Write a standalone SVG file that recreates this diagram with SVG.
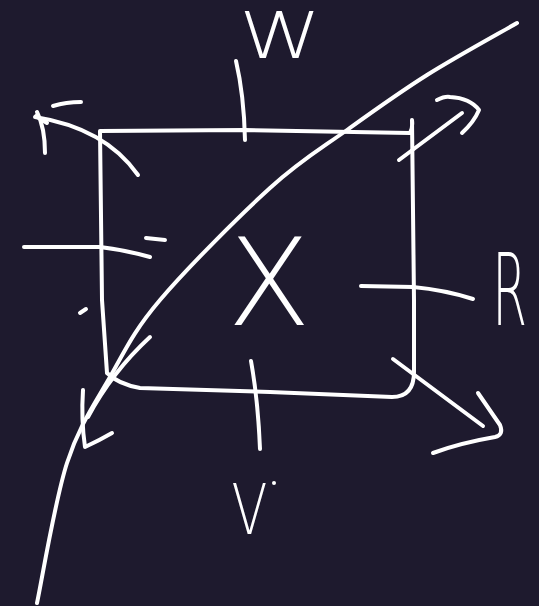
<svg xmlns="http://www.w3.org/2000/svg" width="539" height="606" viewBox="0 0 539 606">
  <style>
    .s { fill: none; stroke: #ffffff; stroke-width: 4; stroke-linecap: round; stroke-linejoin: round; }
    .t { fill: #ffffff; font-family: "DejaVu Sans", "Liberation Sans", sans-serif; font-weight: 200; text-anchor: middle; }
  </style>
  <rect x="0" y="0" width="539" height="606" fill="#1e1a2e"/>

  <g id="box">
    <path class="s" d="M100,131 L245,130 L410,133 Q413,128 412,120 L414,300 L414,372 Q414,397 392,397 L270,392 L140,388 Q118,384 107,373 L102,300 Z"/>
  </g>

  <g id="label-x">
    <text class="t" x="269" y="325" font-size="122">X</text>
  </g>
  <g id="label-w">
    <text class="t" transform="translate(280,58) scale(1.3,1)" x="0" y="0" font-size="64">W</text>
  </g>
  <g id="label-r">
    <text class="t" transform="translate(509.5,325) scale(0.5,1)" x="0" y="0" font-size="100">R</text>
  </g>
  <g id="label-v">
    <text class="t" transform="translate(249.5,534) scale(0.75,1)" x="0" y="0" font-size="70">V</text>
    <circle cx="274" cy="483" r="2" fill="#ffffff"/>
  </g>

  <g id="connectors">
    <!-- ticks -->
    <path class="s" d="M236,61 Q244,95 245,140"/>
    <path class="s" d="M361,286 L413,287 Q445,290 473,299"/>
    <path class="s" d="M251,361 Q258,400 260,449"/>
    <path class="s" d="M24,247 L100,247 Q125,250 150,257"/>
    <!-- stray marks -->
    <path class="s" d="M53,106 Q66,102 81,102"/>
    <path class="s" d="M146,238 L165,240"/>
    <path class="s" d="M80,313 L86,309"/>
    <!-- top-left arrow -->
    <path class="s" d="M138,175 Q105,128 35,117"/>
    <path class="s" d="M37,112 Q45,128 45,153"/>
    <path class="s" d="M36,116 L47,123"/>
    <!-- top-right arrow -->
    <path class="s" d="M399,160 L462,113"/>
    <path class="s" d="M437,100 Q445,96 450,97 Q470,98 479,110 Q474,122 462,133"/>
    <!-- bottom-right arrow -->
    <path class="s" d="M393,359 L483,426"/>
    <path class="s" d="M478,393 L500,425 Q504,435 495,437 Q460,443 433,453"/>
    <!-- bottom-left arrow -->
    <path class="s" d="M150,337 Q112,372 88,417"/>
    <path class="s" d="M83,390 Q81,420 85,447 Q100,440 112,433"/>
    <!-- big curve -->
    <path class="s" d="M517,23 C502,31.7 455.3,57.2 427,75 C398.7,92.8 373.2,111.2 347,130 C320.8,148.8 301.2,159.7 270,188 C238.8,216.3 186.7,268.5 160,300 C133.3,331.5 125.5,349.8 110,377 C94.5,404.2 79.2,425.3 67,463 C54.8,500.7 42,579.7 37,603"/>
  </g>
</svg>
